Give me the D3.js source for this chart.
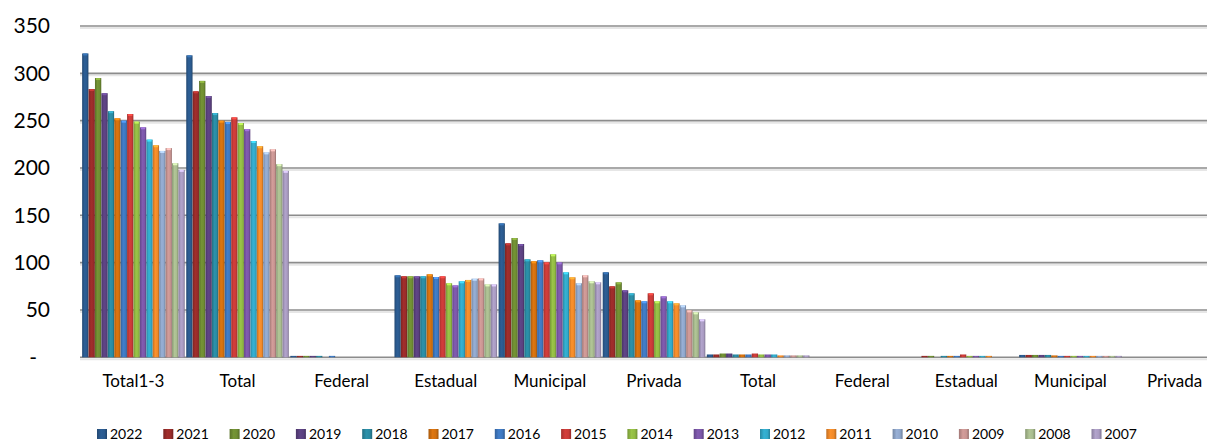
<!DOCTYPE html>
<html>
<head>
	<script src="https://cdn.jsdelivr.net/npm/d3@7"></script>
	<style>
		html, body { padding: 0; margin: 0; background: #ffffff; }
		text { font-family: Lato, "Open Sans", sans-serif; fill: #000; }
	</style>
</head>
<body>
	<script>
		var width = 1207, height = 441;

		var categories = ["Total1-3", "Total", "Federal", "Estadual", "Municipal", "Privada",
			"Total", "Federal", "Estadual", "Municipal", "Privada"];
		var years = ["2022", "2021", "2020", "2019", "2018", "2017", "2016", "2015",
			"2014", "2013", "2012", "2011", "2010", "2009", "2008", "2007"];
		var colors = ["#2b5a8e", "#9a2c2a", "#6f8d32", "#5b4180", "#2a8aa2", "#d2700f",
			"#3f78c0", "#c93b38", "#92bb44", "#7b57a8", "#32a9c9", "#f08a2a",
			"#90a7cb", "#c99592", "#a9bc8f", "#a99bc1"];
		var yTicks = [0, 50, 100, 150, 200, 250, 300, 350];

		// one row per year, one value per category
		var seriesValues = [
			[321, 319, 1.5, 86.6, 141.5, 89.8, 3, 0, 0, 2.5, 0],
			[283.4, 281, 1.5, 85.6, 120.4, 75, 3, 0, 1.5, 2.5, 0],
			[295, 292, 1.5, 85.6, 126, 79.2, 4, 0, 1.5, 2.5, 0],
			[279, 276, 1.5, 85.6, 119.7, 70.8, 4, 0, 0, 2.5, 0],
			[260, 258, 1.5, 85.6, 103.5, 67.6, 3, 0, 1.5, 2.5, 0],
			[252.5, 250, 0, 87.7, 101.4, 60.2, 3, 0, 1.5, 2, 0],
			[250, 248.5, 1.5, 84.8, 102.5, 59.2, 3, 0, 1.5, 1.5, 0],
			[257, 253.5, 0, 85.6, 100.3, 67.6, 4, 0, 3, 1.5, 0],
			[249, 247.5, 0, 78.2, 108.8, 59.2, 3, 0, 1.5, 1.5, 0],
			[243, 241, 0, 76, 100.3, 64.4, 3, 0, 1.5, 1.5, 0],
			[230, 228.5, 0, 80.3, 89.8, 59.2, 3, 0, 1.5, 1.5, 0],
			[224, 223, 0, 81.7, 84.5, 57, 2, 0, 1.5, 1.5, 0],
			[218, 216.5, 0, 83, 78.2, 54.9, 2, 0, 0, 1.5, 0],
			[221, 219.7, 0, 83.3, 86.6, 49.6, 2, 0, 0, 1.5, 0],
			[205, 204, 0, 77, 80.3, 47.5, 2, 0, 0, 1.5, 0],
			[198, 197, 0, 77, 79.2, 40.1, 2, 0, 0, 1.5, 0]
		];

		var svg = d3.select('body').append('svg')
			.attr('width', width)
			.attr('height', height);

		var y = d3.scaleLinear().domain([0, 350]).range([357.3, 26]);
		var x0 = d3.scaleBand().domain(d3.range(categories.length)).range([82, 1226]).paddingInner(0.012);
		var x1 = d3.scaleBand().domain(years).range([0, x0.bandwidth()]).padding(0.02);

		// gradients for the 3d look of the bars
		var defs = svg.append('defs');
		colors.forEach(function (c, i) {
			var g = defs.append('linearGradient').attr('id', 'g' + i)
				.attr('x1', 0).attr('x2', 1).attr('y1', 0).attr('y2', 0);
			g.append('stop').attr('offset', '0%').attr('stop-color', d3.color(c).darker(0.6));
			g.append('stop').attr('offset', '40%').attr('stop-color', d3.color(c).brighter(0.15));
			g.append('stop').attr('offset', '75%').attr('stop-color', c);
			g.append('stop').attr('offset', '100%').attr('stop-color', d3.color(c).darker(0.8));
		});

		// gridlines
		var grid = svg.append('g');
		grid.selectAll('line.sh').data(yTicks).enter().append('line')
			.attr('x1', 80).attr('x2', width)
			.attr('y1', function (d) { return y(d) + 2; }).attr('y2', function (d) { return y(d) + 2; })
			.style('stroke', '#e6e6e6').style('stroke-width', 2);
		grid.selectAll('line.gl').data(yTicks).enter().append('line')
			.attr('x1', 80).attr('x2', width)
			.attr('y1', function (d) { return y(d); }).attr('y2', function (d) { return y(d); })
			.style('stroke', '#8c8c8c').style('stroke-width', 1.6);

		// y labels
		svg.append('g').selectAll('text').data(yTicks).enter().append('text')
			.attr('x', function (d) { return d === 0 ? 37 : 50; })
			.attr('y', function (d) { return y(d); })
			.attr('dy', '0.35em')
			.attr('text-anchor', 'end')
			.style('font-size', '21px')
			.text(function (d) { return d === 0 ? '-' : d; });

		// bars
		var groups = svg.append('g').selectAll('g').data(categories).enter().append('g')
			.attr('transform', function (d, i) { return 'translate(' + x0(i) + ',0)'; });

		groups.selectAll('rect').data(function (d, ci) {
			return years.map(function (yr, si) { return { year: yr, si: si, v: seriesValues[si][ci] }; });
		}).enter().append('rect')
			.filter(function (d) { return d.v > 0; })
			.attr('x', function (d) { return x1(d.year); })
			.attr('y', function (d) { return y(d.v); })
			.attr('width', x1.bandwidth())
			.attr('height', function (d) { return y(0) - y(d.v); })
			.attr('fill', function (d) { return 'url(#g' + d.si + ')'; });

		// small light cap on top of each bar
		groups.selectAll('rect.cap').data(function (d, ci) {
			return years.map(function (yr, si) { return { year: yr, si: si, v: seriesValues[si][ci] }; });
		}).enter().append('rect')
			.filter(function (d) { return d.v > 4; })
			.attr('x', function (d) { return x1(d.year) + 1; })
			.attr('y', function (d) { return y(d.v); })
			.attr('width', x1.bandwidth() - 2)
			.attr('height', 2)
			.attr('fill', function (d) { return d3.color(colors[d.si]).brighter(0.8); });

		// x labels
		svg.append('g').selectAll('text').data(categories).enter().append('text')
			.attr('x', function (d, i) { return x0(i) + x0.bandwidth() / 2; })
			.attr('y', 381)
			.attr('dy', '0.35em')
			.attr('text-anchor', 'middle')
			.style('font-size', '17px')
			.text(function (d) { return d; });

		// legend
		var legend = svg.append('g').selectAll('g').data(years).enter().append('g')
			.attr('transform', function (d, i) { return 'translate(' + (97 + i * 66.3) + ',434)'; });
		legend.append('rect')
			.attr('x', 0).attr('y', -5).attr('width', 10).attr('height', 10)
			.attr('fill', function (d, i) { return 'url(#g' + i + ')'; });
		legend.append('text')
			.attr('x', 13).attr('y', 0).attr('dy', '0.35em')
			.style('font-size', '14px')
			.text(function (d) { return d; });
	</script>
</body>
</html>
